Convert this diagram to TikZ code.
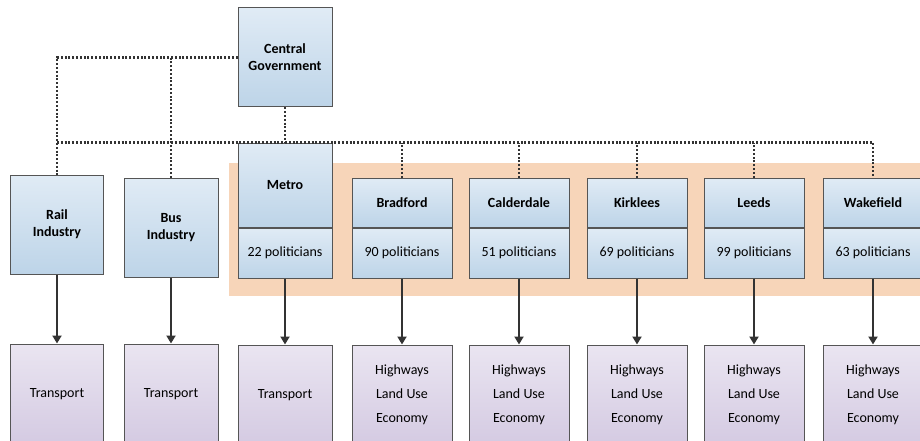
\documentclass[tikz,border=0pt]{standalone}
\usepackage{fontspec}
\setmainfont{Carlito}
\usepackage{tikz}
\usetikzlibrary{positioning,arrows.meta}
\definecolor{boxtop}{HTML}{E0EBF5}
\definecolor{boxbot}{HTML}{BDD4E8}
\definecolor{remtop}{HTML}{EAE5F1}
\definecolor{rembot}{HTML}{D4CAE2}
\definecolor{bandfill}{HTML}{F7D5B9}
\definecolor{edge}{HTML}{555555}
\definecolor{wire}{HTML}{333333}

\begin{document}
\begin{tikzpicture}[x=1pt, y=-1pt, node distance={66pt},
  body/.style = {draw=edge, line width=1pt, top color=boxtop, bottom color=boxbot, align=center, font={\fontsize{14}{17}\selectfont\bfseries}, inner sep=0pt},
  seats/.style = {body, font={\fontsize{14}{17}\selectfont}, minimum width=100pt, minimum height=50pt},
  remit/.style = {draw=edge, line width=1pt, top color=remtop, bottom color=rembot, align=center, font={\fontsize{14}{24}\selectfont}, inner sep=0pt, minimum height=100pt},
  link/.style = {draw=wire, line width=2.2pt, dash pattern={on 2pt off 1.8pt}},
  feed/.style = {draw=wire, line width=2pt, -{Triangle[length=8pt, width=9pt]}}]
\useasboundingbox (0,0) rectangle (920,441);
\clip (0,0) rectangle (920,441);
\fill[bandfill] (229,163) rectangle (920,296);
\node[body, minimum width=94pt, minimum height=99pt] (cg) at (285,57.5) {Central\\Government};
\node[body, minimum width=93pt, minimum height=99pt] (rail) at (57,224.5) {Rail\\Industry};
\node[body, minimum width=94pt, minimum height=99pt] (bus) at (171,227.5) {Bus\\Industry};
\node[body, minimum width=94pt, minimum height=84pt] (metro) at (285,185) {Metro};
\node[seats, minimum width=94pt] (metron) [below=0pt of metro] {22 politicians};
\node[body, minimum width=100pt, minimum height=49pt] (brad) at (402,202.5) {Bradford};
\node[body, minimum width=100pt, minimum height=49pt] (cald) at (519,202.5) {Calderdale};
\node[body, minimum width=100pt, minimum height=49pt] (kirk) at (637,202.5) {Kirklees};
\node[body, minimum width=100pt, minimum height=49pt] (leeds) at (754,202.5) {Leeds};
\node[body, minimum width=100pt, minimum height=49pt] (wake) at (873,202.5) {Wakefield};
\node[seats] (bradn) [below=0pt of brad] {90 politicians};
\node[seats] (caldn) [below=0pt of cald] {51 politicians};
\node[seats] (kirkn) [below=0pt of kirk] {69 politicians};
\node[seats] (leedsn) [below=0pt of leeds] {99 politicians};
\node[seats] (waken) [below=0pt of wake] {63 politicians};
\node[remit, minimum width=93pt] (railr) [below=69pt of rail] {Transport};
\node[remit, minimum width=94pt] (busr) [below=of bus] {Transport};
\node[remit, minimum width=94pt] (metror) [below=of metron] {Transport};
\node[remit, minimum width=100pt] (bradr) [below=of bradn] {Highways\\Land Use\\Economy};
\node[remit, minimum width=100pt] (caldr) [below=of caldn] {Highways\\Land Use\\Economy};
\node[remit, minimum width=100pt] (kirkr) [below=of kirkn] {Highways\\Land Use\\Economy};
\node[remit, minimum width=100pt] (leedsr) [below=of leedsn] {Highways\\Land Use\\Economy};
\node[remit, minimum width=100pt] (waker) [below=of waken] {Highways\\Land Use\\Economy};
\draw[link] (cg.west) -| (rail.north);
\draw[link] (bus.north) -- (bus.north |- cg.west);
\draw[link] (cg.south) -- (metro.north);
\draw[link] (rail.north |- metro.north) -| (wake.north);
\draw[link] (brad.north) -- (brad.north |- metro.north);
\draw[link] (cald.north) -- (cald.north |- metro.north);
\draw[link] (kirk.north) -- (kirk.north |- metro.north);
\draw[link] (leeds.north) -- (leeds.north |- metro.north);
\draw[feed] (rail) -- (railr);
\draw[feed] (bus) -- (busr);
\draw[feed] (metron) -- (metror);
\draw[feed] (bradn) -- (bradr);
\draw[feed] (caldn) -- (caldr);
\draw[feed] (kirkn) -- (kirkr);
\draw[feed] (leedsn) -- (leedsr);
\draw[feed] (waken) -- (waker);
\end{tikzpicture}
\end{document}
